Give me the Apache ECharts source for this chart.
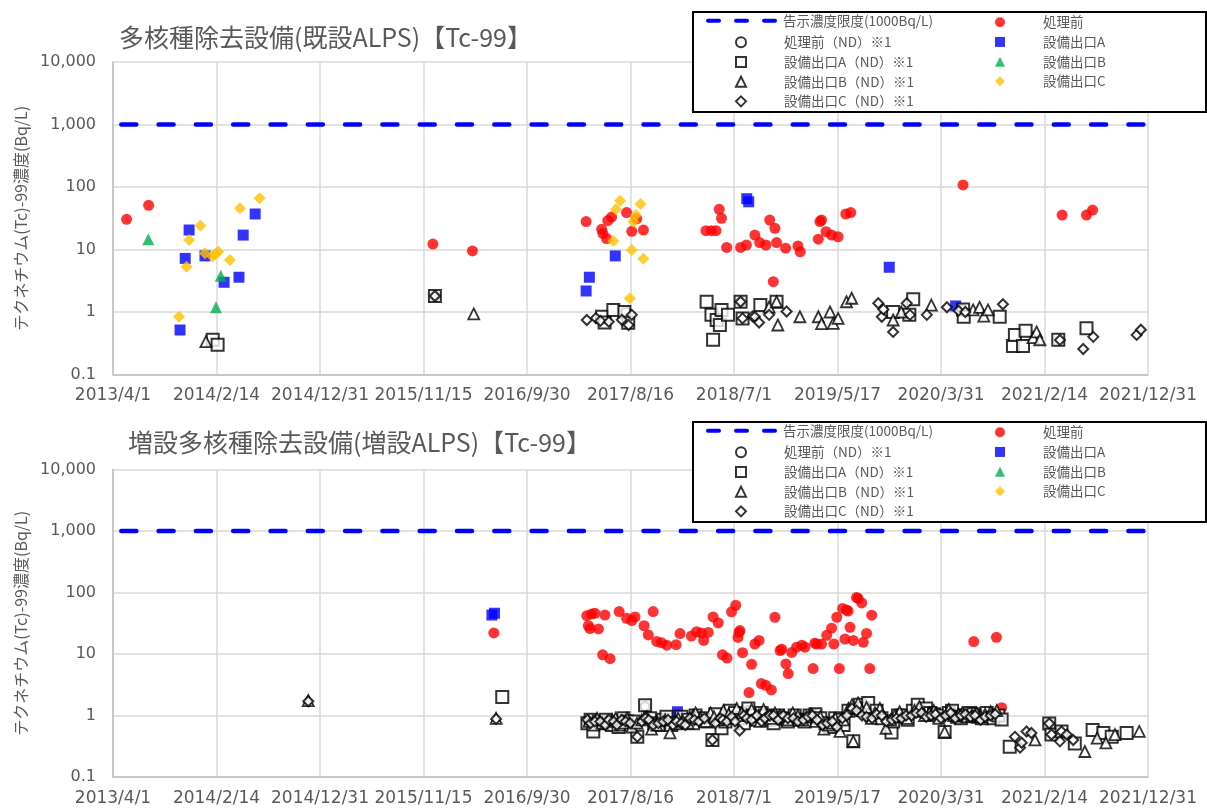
<!DOCTYPE html>
<html><head><meta charset="utf-8">
<script src="https://cdn.jsdelivr.net/npm/echarts@6/dist/echarts.min.js"></script>
<style>html,body{margin:0;padding:0;background:#fff}#c{width:1207px;height:810px}</style>
</head><body><div id="c"></div>
<script>
// ---------- tick labels ----------
const xTickDates = ['2013-04-01','2014-02-14','2014-12-31','2015-11-15','2016-09-30','2017-08-16','2018-07-01','2019-05-17','2020-03-31','2021-02-14','2021-12-31'];
const xTickLabels = ['2013/4/1','2014/2/14','2014/12/31','2015/11/15','2016/9/30','2017/8/16','2018/7/1','2019/5/17','2020/3/31','2021/2/14','2021/12/31'];
const yTickLabels = ['0.1','1','10','100','1,000','10,000'];
const chartTitles = ['多核種除去設備(既設ALPS)【Tc-99】','増設多核種除去設備(増設ALPS)【Tc-99】'];
const yAxisName = 'テクネチウム(Tc)-99濃度(Bq/L)';
const limitName = '告示濃度限度(1000Bq/L)';
const limitValue = 1000;
const seriesNames = ['処理前','処理前（ND）※1','設備出口A','設備出口A（ND）※1','設備出口B','設備出口B（ND）※1','設備出口C','設備出口C（ND）※1'];

// ---------- top chart (既設ALPS) ----------
const topPre = [['2013-05-13',30.4],['2013-07-20',51],['2015-12-15',12.2],['2016-04-15',9.5],
['2017-04-01',28],['2017-05-19',21],['2017-05-23',18],['2017-06-03',15],['2017-06-07',29],['2017-06-19',33],['2017-08-04',39],['2017-08-20',19.5],['2017-09-04',31],['2017-09-25',20.5],
['2018-04-06',20],['2018-04-23',20],['2018-05-07',20],['2018-05-17',44],['2018-05-24',31.5],['2018-06-09',10.8],['2018-07-22',10.8],['2018-08-09',11.8],['2018-09-04',17],['2018-09-19',12.9],['2018-10-08',11.8],['2018-10-20',29.6],['2018-10-31',3.05],['2018-11-05',21.8],['2018-11-10',12.9],['2018-12-08',10.5],['2019-01-15',11.4],['2019-01-22',9.2],['2019-03-19',14.6],['2019-03-24',28],['2019-03-29',29.6],['2019-04-12',19.3],['2019-04-29',17],['2019-05-19',16],['2019-06-12',37],['2019-06-27',39],
['2020-06-08',108],['2021-04-10',35.6],['2021-06-24',35.6],['2021-07-13',42.8]];
const topPreND = [['2015-12-21',1.8],['2017-08-01',1.0],['2018-07-22',1.46],['2020-06-05',1.1]];
const topA = [['2013-10-25',0.515],['2013-11-10',7.2],['2013-11-22',20.5],['2014-01-10',7.9],['2014-03-10',2.99],['2014-04-25',3.6],['2014-05-08',17],['2014-06-14',37],['2017-04-01',2.17],['2017-04-11',3.6],['2017-06-30',7.9],['2018-08-10',65],['2018-08-16',58],['2019-10-24',5.2],['2020-05-16',1.25]];
const topAND = [['2014-02-03',0.36],['2014-02-18',0.3],['2015-12-21',1.8],['2017-05-20',0.84],['2017-05-28',0.68],['2017-06-24',1.08],['2017-07-28',1.0],['2017-08-09',0.67],['2018-04-08',1.46],['2018-04-23',0.9],['2018-04-28',0.36],['2018-05-09',0.745],['2018-05-19',0.62],['2018-05-24',1.08],['2018-06-13',0.9],['2018-07-22',1.46],['2018-07-28',0.79],['2018-09-21',1.29],['2018-11-10',1.46],['2019-11-05',1.0],['2019-12-25',0.9],['2020-01-06',1.6],['2020-06-08',1.1],['2020-06-10',0.84],['2020-09-29',0.84],['2020-11-09',0.286],['2020-11-15',0.43],['2020-12-10',0.286],['2020-12-18',0.5],['2021-03-29',0.36],['2021-06-24',0.55]];
const topB = [['2013-07-19',14.6],['2014-02-13',1.19],['2014-02-28',3.8]];
const topBND = [['2014-01-13',0.335],['2016-04-19',0.93],['2018-10-18',1.2],['2018-11-10',1.46],['2018-11-14',0.62],['2019-01-21',0.84],['2019-03-19',0.84],['2019-03-29',0.65],['2019-04-24',1.0],['2019-05-04',0.66],['2019-05-19',0.79],['2019-06-14',1.46],['2019-06-30',1.66],['2019-11-05',0.745],['2019-11-30',1.0],['2020-03-02',1.29],['2020-07-09',1.08],['2020-07-29',1.19],['2020-08-11',0.86],['2020-08-24',1.08],['2021-01-10',0.39],['2021-01-21',0.48],['2021-01-31',0.36]];
const topC = [['2013-10-22',0.84],['2013-11-14',5.3],['2013-11-22',14.2],['2013-12-27',24],['2014-01-10',8.7],['2014-02-02',7.7],['2014-02-10',8.4],['2014-02-20',9.2],['2014-03-28',6.8],['2014-04-28',45.6],['2014-06-28',66],['2017-06-24',13.7],['2017-07-02',44],['2017-07-15',60],['2017-08-14',1.66],['2017-08-20',9.8],['2017-08-25',27.9],['2017-09-02',35.6],['2017-09-16',53.5],['2017-09-25',7.1]];
const topCND = [['2015-12-21',1.8],['2017-04-03',0.745],['2017-05-01',0.8],['2017-05-15',0.72],['2017-06-10',0.7],['2017-07-20',0.75],['2017-08-10',0.62],['2017-08-20',0.9],['2018-07-22',1.46],['2018-07-28',0.79],['2018-08-28',0.85],['2018-09-04',0.84],['2018-09-17',0.68],['2018-10-18',0.9],['2018-12-11',1.02],['2019-09-20',1.38],['2019-10-01',0.84],['2019-10-06',1.1],['2019-11-05',0.48],['2019-12-17',1.38],['2019-12-27',0.9],['2020-02-17',0.9],['2020-04-19',1.19],['2020-05-25',1.05],['2020-06-15',1.0],['2020-10-09',1.33],['2021-04-03',0.356],['2021-06-14',0.256],['2021-07-15',0.4],['2021-11-26',0.43],['2021-12-09',0.52]];

// ---------- bottom chart (増設ALPS) ----------
const botPre = [['2016-06-20',22],
['2017-04-03',41.9],['2017-04-08',28.8],['2017-04-13',25.9],['2017-04-18',44.6],['2017-04-28',46],['2017-05-09',25.6],['2017-05-22',9.7],['2017-05-29',43],['2017-06-14',8.4],['2017-07-12',49],['2017-08-04',38],['2017-08-20',35],['2017-08-30',40],['2017-09-27',28.8],['2017-10-10',20.4],['2017-10-25',49],['2017-11-05',16],['2017-11-20',15.2],['2017-12-06',13.9],['2018-01-04',14.2],['2018-01-16',21.5],['2018-02-20',19.6],['2018-03-08',23],['2018-03-23',21.9],['2018-03-30',16.6],['2018-04-13',22.4],['2018-04-28',40],['2018-05-14',32],['2018-05-27',9.7],['2018-06-10',8.6],['2018-06-24',48.5],['2018-07-07',62],['2018-07-14',18.6],['2018-07-17',22.4],['2018-07-20',24],['2018-07-28',10.5],['2018-08-17',2.36],['2018-08-25',6.8],['2018-09-04',14.5],['2018-09-17',16.6],['2018-09-24',3.3],['2018-10-08',3.1],['2018-10-25',2.6],['2018-11-05',39.6],['2018-11-21',11.4],['2018-11-26',12.0],['2018-12-09',6.9],['2018-12-16',4.8],['2018-12-27',10.6],['2019-01-11',12.9],['2019-01-27',13.9],['2019-02-06',12.9],['2019-03-03',5.8],['2019-03-08',15],['2019-03-14',14.5],['2019-03-29',14.5],['2019-04-14',20.1],['2019-04-29',26.3],['2019-05-06',14.5],['2019-05-15',39.6],['2019-05-23',5.8],['2019-06-02',55],['2019-06-09',17.5],['2019-06-14',52],['2019-06-19',50],['2019-06-25',27.1],['2019-07-05',16.6],['2019-07-15',83],['2019-07-20',80],['2019-07-31',67.6],['2019-08-05',15.5],['2019-08-15',21.6],['2019-08-25',5.8],['2019-08-31',42.7],
['2020-07-11',15.9],['2020-09-19',18.7],['2020-10-05',1.34]];
const botPreND = [['2017-09-30',1.4],['2018-03-01',1.0],['2018-08-15',1.2],['2019-07-25',1.4],['2020-01-20',1.3],['2020-05-20',1.05],['2021-03-01',0.74]];
const botA = [['2016-06-14',43],['2016-06-22',46],['2018-01-08',1.15]];
const botAND = [['2016-07-16',2.0],['2017-04-05',0.75],['2017-04-15',0.85],['2017-04-23',0.55],['2017-05-10',0.8],['2017-05-25',0.75],['2017-06-01',0.85],['2017-06-20',0.7],['2017-07-10',0.65],['2017-07-25',0.9],['2017-08-05',0.8],['2017-08-25',0.8],['2017-09-06',0.45],['2017-09-30',1.47],['2017-10-15',0.9],['2017-10-28',0.75],['2017-11-10',0.7],['2017-11-25',0.85],['2017-12-05',0.95],['2017-12-20',0.7],['2018-01-05',0.75],['2018-01-20',0.95],['2018-02-10',0.85],['2018-02-25',0.75],['2018-03-05',1.0],['2018-03-20',0.9],['2018-04-10',0.8],['2018-04-26',0.4],['2018-05-05',1.05],['2018-05-24',0.62],['2018-06-05',0.8],['2018-06-20',1.2],['2018-07-05',1.1],['2018-07-20',0.9],['2018-08-01',0.75],['2018-08-15',1.3],['2018-08-28',1.0],['2018-09-10',0.85],['2018-09-25',1.1],['2018-10-05',1.0],['2018-10-20',0.85],['2018-11-01',0.75],['2018-11-15',1.0],['2018-12-01',0.9],['2018-12-15',0.8],['2019-01-05',1.0],['2019-01-20',0.85],['2019-02-05',0.8],['2019-02-20',1.0],['2019-03-10',1.05],['2019-03-25',0.9],['2019-04-10',0.75],['2019-04-25',0.65],['2019-05-10',0.9],['2019-05-25',0.85],['2019-06-05',0.7],['2019-06-20',1.2],['2019-07-05',0.38],['2019-07-25',1.5],['2019-08-05',1.3],['2019-08-20',1.6],['2019-08-30',1.0],['2019-09-15',1.2],['2019-09-30',0.9],['2019-10-31',0.53],['2019-11-05',0.8],['2019-11-20',1.0],['2019-12-05',1.0],['2019-12-20',0.85],['2020-01-05',1.2],['2020-01-20',1.5],['2020-02-15',1.3],['2020-02-28',1.1],['2020-03-10',1.05],['2020-03-25',1.0],['2020-04-12',0.54],['2020-04-25',1.1],['2020-05-05',1.2],['2020-05-20',0.95],['2020-06-01',0.9],['2020-06-15',1.0],['2020-06-28',1.1],['2020-07-10',1.05],['2020-07-25',0.95],['2020-08-05',0.9],['2020-08-20',1.1],['2020-09-10',0.9],['2020-09-25',1.0],['2020-10-05',0.86],['2020-10-30',0.31],['2021-03-01',0.74],['2021-03-08',0.49],['2021-04-08',0.55],['2021-05-19',0.35],['2021-07-13',0.58],['2021-08-15',0.52],['2021-09-10',0.45],['2021-10-26',0.52]];
const botB = [];
const botBND = [['2014-11-25',1.75],['2016-06-27',0.9],['2017-04-10',0.8],['2017-04-25',0.7],['2017-05-05',0.9],['2017-05-20',0.75],['2017-06-05',0.8],['2017-06-20',0.85],['2017-07-01',0.9],['2017-07-15',0.7],['2017-07-25',0.75],['2017-08-05',0.9],['2017-08-20',0.65],['2017-09-05',0.75],['2017-09-20',0.85],['2017-10-05',0.95],['2017-10-20',0.6],['2017-11-05',0.7],['2017-12-01',0.85],['2017-12-16',0.52],['2018-01-10',0.9],['2018-01-25',0.8],['2018-02-10',0.75],['2018-02-25',1.0],['2018-03-05',1.1],['2018-03-20',0.9],['2018-04-05',0.8],['2018-04-20',1.1],['2018-05-01',0.95],['2018-05-15',0.85],['2018-05-30',1.2],['2018-06-15',1.05],['2018-06-28',0.9],['2018-07-10',1.3],['2018-07-25',1.1],['2018-08-10',1.0],['2018-08-25',1.25],['2018-09-05',0.95],['2018-09-20',0.8],['2018-10-01',1.25],['2018-10-12',1.0],['2018-10-25',0.9],['2018-11-05',1.1],['2018-11-20',1.0],['2018-12-01',0.95],['2018-12-15',0.85],['2018-12-30',1.1],['2019-01-15',1.0],['2019-01-30',0.85],['2019-02-10',0.95],['2019-02-25',1.05],['2019-03-10',0.8],['2019-03-25',0.95],['2019-04-05',0.6],['2019-04-20',0.7],['2019-05-01',0.75],['2019-05-10',0.9],['2019-05-25',0.55],['2019-06-05',0.85],['2019-06-20',1.3],['2019-07-01',1.5],['2019-07-05',0.38],['2019-07-20',1.6],['2019-08-01',1.2],['2019-08-15',1.35],['2019-08-30',0.9],['2019-09-10',1.1],['2019-09-25',1.3],['2019-10-14',0.62],['2019-10-28',0.85],['2019-11-10',1.0],['2019-11-25',1.15],['2019-12-18',0.9],['2020-01-10',1.2],['2020-01-25',1.4],['2020-02-10',1.0],['2020-02-25',1.1],['2020-03-10',1.2],['2020-03-25',0.9],['2020-04-12',0.54],['2020-04-25',1.25],['2020-05-10',1.0],['2020-05-25',1.05],['2020-06-05',1.1],['2020-06-20',0.95],['2020-07-05',1.0],['2020-07-20',1.1],['2020-08-01',0.95],['2020-08-15',1.05],['2020-09-01',1.15],['2020-09-20',1.2],['2021-01-16',0.4],['2021-06-19',0.26],['2021-07-27',0.43],['2021-08-23',0.36],['2021-09-20',0.49],['2021-12-04',0.55]];
const botC = [];
const botCND = [['2014-11-25',1.7],['2016-06-27',0.88],['2017-04-05',0.85],['2017-04-15',0.75],['2017-04-28',0.8],['2017-05-15',0.8],['2017-05-30',0.7],['2017-06-10',0.85],['2017-06-25',0.8],['2017-07-05',0.7],['2017-07-20',0.85],['2017-08-01',0.8],['2017-08-15',0.75],['2017-09-06',0.45],['2017-09-20',0.8],['2017-10-01',0.9],['2017-10-12',0.85],['2017-10-25',0.7],['2017-11-10',0.75],['2017-11-25',0.8],['2017-12-10',0.85],['2017-12-25',0.7],['2018-01-05',0.8],['2018-01-20',0.75],['2018-02-01',0.7],['2018-02-15',0.9],['2018-03-01',0.85],['2018-03-15',0.8],['2018-04-01',0.9],['2018-04-26',0.4],['2018-05-05',0.75],['2018-05-20',0.9],['2018-05-28',0.85],['2018-06-10',0.8],['2018-06-25',0.95],['2018-07-05',0.8],['2018-07-19',0.57],['2018-08-01',1.0],['2018-08-10',0.9],['2018-08-25',0.85],['2018-09-10',1.0],['2018-09-25',0.8],['2018-10-05',0.9],['2018-10-20',1.0],['2018-11-01',1.0],['2018-11-15',0.85],['2018-12-01',1.0],['2018-12-15',0.9],['2019-01-01',0.9],['2019-01-15',0.8],['2019-02-01',0.85],['2019-02-15',0.95],['2019-03-01',1.0],['2019-03-15',0.85],['2019-04-01',0.7],['2019-04-15',0.75],['2019-05-01',0.8],['2019-05-15',0.65],['2019-06-01',0.9],['2019-06-15',1.0],['2019-07-01',1.3],['2019-07-15',1.2],['2019-08-01',1.0],['2019-08-15',0.95],['2019-09-01',0.9],['2019-09-15',1.05],['2019-10-01',1.0],['2019-10-15',0.8],['2019-11-01',0.85],['2019-11-15',0.9],['2019-12-01',0.9],['2019-12-15',1.0],['2020-01-01',1.0],['2020-01-15',1.1],['2020-02-01',1.1],['2020-02-15',0.95],['2020-03-01',1.0],['2020-03-15',1.05],['2020-04-01',0.9],['2020-04-15',1.0],['2020-05-01',1.1],['2020-05-15',0.9],['2020-06-01',1.0],['2020-06-15',1.05],['2020-07-01',0.95],['2020-07-15',1.0],['2020-08-01',0.85],['2020-08-15',0.95],['2020-09-01',1.0],['2020-09-15',1.05],['2020-11-15',0.45],['2020-12-01',0.3],['2020-12-06',0.36],['2020-12-21',0.55],['2021-01-05',0.52],['2021-03-01',0.74],['2021-03-08',0.49],['2021-04-03',0.38],['2021-04-08',0.55],['2021-04-24',0.49],['2021-05-14',0.4]];

// ---------- build ----------
const DAY0 = Date.UTC(2013,3,1);
function dayOf(s){const p=s.split('-');return (Date.UTC(+p[0],+p[1]-1,+p[2])-DAY0)/864e5;}
const xMin = dayOf(xTickDates[0]);
const xMax = dayOf(xTickDates[xTickDates.length-1]);
const xInterval = (xMax - xMin)/(xTickDates.length-1);
const FONT = '"Noto Sans CJK JP","Noto Sans",sans-serif';
const NUMFONT = '"DejaVu Sans",sans-serif';
const GREY = '#595959';

const styleDefs = [
  {symbol:'circle',  size:11, item:{color:'#ff0000'}},
  {symbol:'circle',  size:9,  item:{color:'#ffffff', borderColor:'#000', borderWidth:2.5}},
  {symbol:'rect',    size:11, item:{color:'#0000ff'}},
  {symbol:'rect',    size:12, item:{color:'#ffffff', borderColor:'#000', borderWidth:2}},
  {symbol:'triangle',size:12, item:{color:'#00b050'}},
  {symbol:'triangle',size:11, item:{color:'#ffffff', borderColor:'#000', borderWidth:1.8}},
  {symbol:'diamond', size:12, item:{color:'#ffc000'}},
  {symbol:'diamond', size:10, item:{color:'#ffffff', borderColor:'#000', borderWidth:2}}
];
const topSets = [topPre, topPreND, topA, topAND, topB, topBND, topC, topCND];
const botSets = [botPre, botPreND, botA, botAND, botB, botBND, botC, botCND];

const series = [];
[topSets, botSets].forEach((sets, gi) => {
  series.push({
    name: limitName, type:'line', xAxisIndex:gi, yAxisIndex:gi, symbol:'none', showSymbol:false, z:2,
    data:[[xMin, limitValue],[xMax, limitValue]],
    lineStyle:{color:'#0000ff', width:4.5, type:[15,22.3], dashOffset:29, cap:'round'},
    silent:true
  });
  sets.forEach((d, i) => {
    const s = styleDefs[i];
    series.push({
      name: seriesNames[i], type:'scatter', xAxisIndex:gi, yAxisIndex:gi,
      symbol:s.symbol, symbolSize:s.size, itemStyle:s.item, z:3+i*0.01,
      data: d.map(p => [dayOf(p[0]), p[1]])
    });
  });
});

const grids = [
  {left:113, top:62, width:1035, height:312.5},
  {left:113, top:469.5, width:1035, height:307.5}
];
const xAxes = grids.map((g, gi) => ({
  type:'value', gridIndex:gi, min:xMin, max:xMax, interval:xInterval,
  axisLine:{show:true, lineStyle:{color:'#bfbfbf', width:1.5}},
  axisTick:{show:false},
  splitLine:{show:true, lineStyle:{color:'#d9d9d9', width:1.5}},
  axisLabel:{color:GREY, fontSize:17, fontFamily:NUMFONT, margin:13,
    formatter:v => xTickLabels[Math.round((v - xMin)/xInterval)] || ''}
}));
const yAxes = grids.map((g, gi) => ({
  type:'log', logBase:10, gridIndex:gi, min:0.1, max:10000,
  axisLine:{show:true, lineStyle:{color:'#bfbfbf', width:1.5}},
  axisTick:{show:false}, minorTick:{show:false},
  splitLine:{show:true, lineStyle:{color:'#d9d9d9', width:1.5}},
  axisLabel:{color:GREY, fontSize:16, fontFamily:NUMFONT, margin:17,
    formatter:v => yTickLabels[Math.round(Math.log10(v)) + 1] || ''},
  name: yAxisName, nameLocation:'middle', nameRotate:90, nameGap:84,
  nameTextStyle:{color:GREY, fontSize:16, fontFamily:FONT}
}));

const legendText = {color:GREY, fontSize:13.5, fontFamily:FONT, lineHeight:12, padding:[0,0,0,33]};
const legends = [];
const boxes = [];
[11, 421].forEach((by) => {
  legends.push({
    left:706, top:by+3, orient:'vertical', padding:0, itemWidth:70, itemHeight:14,
    data:[{name:limitName, itemStyle:{opacity:0}, lineStyle:{type:[11,17], width:4, cap:'round', dashOffset:0}}],
    textStyle:{color:GREY, fontSize:13.5, fontFamily:FONT}, selectedMode:false
  });
  legends.push({
    left:735, top:by+24.5, orient:'vertical', padding:0, itemWidth:10, itemHeight:10, itemGap:6.2,
    data:[seriesNames[1], seriesNames[3], seriesNames[5], seriesNames[7]],
    textStyle:legendText, selectedMode:false
  });
  legends.push({
    left:995, top:by+4.5, orient:'vertical', padding:0, itemWidth:10, itemHeight:10, itemGap:6.2,
    data:[seriesNames[0], seriesNames[2], seriesNames[4], seriesNames[6]],
    textStyle:legendText, selectedMode:false
  });
  boxes.push({type:'rect', left:692, top:by, z:10,
    shape:{width:513, height:100},
    style:{fill:'#ffffff', stroke:'#000000', lineWidth:2}});
});

const chart = echarts.init(document.getElementById('c'), null, {renderer:'canvas'});
chart.setOption({
  animation:false,
  backgroundColor:'#ffffff',
  title: [
    {text:chartTitles[0], left:114, top:20, textStyle:{color:GREY, fontSize:25, fontWeight:'normal', fontFamily:FONT}},
    {text:chartTitles[1], left:123, top:425, textStyle:{color:GREY, fontSize:25, fontWeight:'normal', fontFamily:FONT}}
  ],
  grid: grids,
  xAxis: xAxes,
  yAxis: yAxes,
  legend: legends.map(l => Object.assign({z:20}, l)),
  graphic: boxes,
  series: series
});
</script>
</body></html>
